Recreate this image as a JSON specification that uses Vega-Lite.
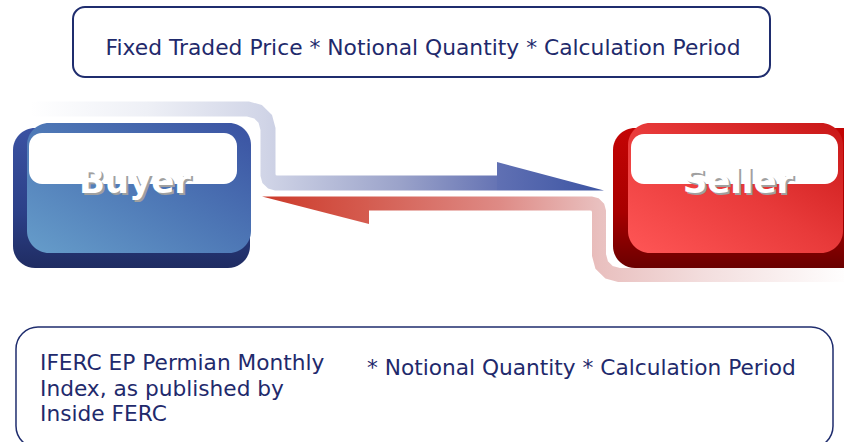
{
  "$schema": "https://vega.github.io/schema/vega-lite/v6.json",
  "width": 844,
  "height": 442,
  "autosize": {"type": "none"},
  "padding": 0,
  "background": "white",
  "config": {"view": {"stroke": null}},
  "datasets": {
    "blueBand": [
      {"i": 0, "x": 30, "y": 109}, {"i": 1, "x": 248, "y": 109}, {"i": 2, "x": 258, "y": 111.7},
      {"i": 3, "x": 265.3, "y": 119}, {"i": 4, "x": 268, "y": 129}, {"i": 5, "x": 268, "y": 175},
      {"i": 6, "x": 269.1, "y": 179}, {"i": 7, "x": 272, "y": 181.9}, {"i": 8, "x": 276, "y": 183},
      {"i": 9, "x": 497, "y": 183}
    ],
    "blueHead": [{"x": 497, "y": 162, "y2": 190.5}, {"x": 604, "y": 190.5, "y2": 190.5}],
    "redBand": [
      {"i": 0, "x": 369, "y": 203.5}, {"i": 1, "x": 591, "y": 203.5}, {"i": 2, "x": 595, "y": 204.6},
      {"i": 3, "x": 597.9, "y": 207.5}, {"i": 4, "x": 599, "y": 211.5}, {"i": 5, "x": 599, "y": 255},
      {"i": 6, "x": 601.7, "y": 265}, {"i": 7, "x": 609, "y": 272.3}, {"i": 8, "x": 619, "y": 275},
      {"i": 9, "x": 850, "y": 275}
    ],
    "redHead": [{"x": 262, "y": 196.5, "y2": 196.5}, {"x": 369, "y": 196.5, "y2": 224}],
    "topBox": [{"x": 73, "x2": 770, "y": 7, "y2": 77}],
    "bottomBox": [{"x": 16, "x2": 833, "y": 327, "y2": 448}],
    "buyerBack": [{"x": 13, "x2": 250, "y": 128, "y2": 268}],
    "buyerFace": [{"x": 27, "x2": 251, "y": 123, "y2": 253}],
    "sellerBack": [{"x": 613, "x2": 870, "y": 128, "y2": 268}],
    "sellerFace": [{"x": 628, "x2": 843, "y": 123, "y2": 253}],
    "highlights": [
      {"x": 29, "x2": 237, "y": 133, "y2": 184},
      {"x": 631, "x2": 838, "y": 134, "y2": 184}
    ],
    "labels": [
      {"t": "Buyer", "x": 135, "y": 193},
      {"t": "Seller", "x": 738, "y": 193}
    ],
    "topText": [{"t": "Fixed Traded Price * Notional Quantity * Calculation Period", "x": 423, "y": 55}],
    "bottomText": [
      {"t": "IFERC EP Permian Monthly", "x": 40, "y": 370},
      {"t": "Index, as published by", "x": 40, "y": 396},
      {"t": "Inside FERC", "x": 40, "y": 421},
      {"t": "* Notional Quantity * Calculation Period", "x": 367, "y": 375}
    ]
  },
  "layer": [
    {
      "data": {"name": "topBox"},
      "mark": {"type": "rect", "fill": "white", "stroke": "#1f2d6e", "strokeWidth": 2, "cornerRadius": 12},
      "encoding": {
        "x": {"field": "x", "type": "quantitative", "scale": {"domain": [0, 844], "nice": false, "zero": false}, "axis": null},
        "x2": {"field": "x2"},
        "y": {"field": "y", "type": "quantitative", "scale": {"domain": [0, 442], "nice": false, "zero": false, "reverse": true}, "axis": null},
        "y2": {"field": "y2"}
      }
    },
    {
      "data": {"name": "bottomBox"},
      "mark": {"type": "rect", "fill": "white", "stroke": "#1f2d6e", "strokeWidth": 1.5, "cornerRadius": 22},
      "encoding": {
        "x": {"field": "x", "type": "quantitative", "axis": null},
        "x2": {"field": "x2"},
        "y": {"field": "y", "type": "quantitative", "axis": null},
        "y2": {"field": "y2"}
      }
    },
    {
      "data": {"name": "blueBand"},
      "mark": {
        "type": "line", "strokeWidth": 15, "strokeCap": "butt", "strokeJoin": "miter",
        "color": {"gradient": "linear", "x1": 0, "y1": 0, "x2": 1, "y2": 0,
          "stops": [
            {"offset": 0, "color": "#ffffff"},
            {"offset": 0.25, "color": "#eef0f6"},
            {"offset": 0.5, "color": "#d1d5e7"},
            {"offset": 0.79, "color": "#9ba3ca"},
            {"offset": 1, "color": "#6674b4"}
          ]}
      },
      "encoding": {
        "x": {"field": "x", "type": "quantitative", "axis": null},
        "y": {"field": "y", "type": "quantitative", "axis": null},
        "order": {"field": "i", "type": "quantitative"}
      }
    },
    {
      "data": {"name": "blueHead"},
      "mark": {
        "type": "area",
        "color": {"gradient": "linear", "x1": 0, "y1": 0, "x2": 1, "y2": 0,
          "stops": [{"offset": 0, "color": "#6070b3"}, {"offset": 1, "color": "#3c54a3"}]}
      },
      "encoding": {
        "x": {"field": "x", "type": "quantitative", "axis": null},
        "y": {"field": "y", "type": "quantitative", "axis": null},
        "y2": {"field": "y2"}
      }
    },
    {
      "data": {"name": "redBand"},
      "mark": {
        "type": "line", "strokeWidth": 14, "strokeCap": "butt", "strokeJoin": "miter",
        "color": {"gradient": "linear", "x1": 0, "y1": 0, "x2": 1, "y2": 0,
          "stops": [
            {"offset": 0, "color": "#d45d51"},
            {"offset": 0.27, "color": "#de8a85"},
            {"offset": 0.48, "color": "#e9c0bf"},
            {"offset": 0.7, "color": "#f3dede"},
            {"offset": 1, "color": "#ffffff"}
          ]}
      },
      "encoding": {
        "x": {"field": "x", "type": "quantitative", "axis": null},
        "y": {"field": "y", "type": "quantitative", "axis": null},
        "order": {"field": "i", "type": "quantitative"}
      }
    },
    {
      "data": {"name": "redHead"},
      "mark": {
        "type": "area",
        "color": {"gradient": "linear", "x1": 0, "y1": 0, "x2": 1, "y2": 0,
          "stops": [{"offset": 0, "color": "#cc3a2a"}, {"offset": 1, "color": "#d55c50"}]}
      },
      "encoding": {
        "x": {"field": "x", "type": "quantitative", "axis": null},
        "y": {"field": "y", "type": "quantitative", "axis": null},
        "y2": {"field": "y2"}
      }
    },
    {
      "data": {"name": "buyerBack"},
      "mark": {
        "type": "rect", "cornerRadius": 22,
        "color": {"gradient": "linear", "x1": 0, "y1": 0, "x2": 0, "y2": 1,
          "stops": [{"offset": 0, "color": "#3a52a2"}, {"offset": 0.6, "color": "#2c4088"}, {"offset": 1, "color": "#1f2c62"}]}
      },
      "encoding": {
        "x": {"field": "x", "type": "quantitative", "axis": null},
        "x2": {"field": "x2"},
        "y": {"field": "y", "type": "quantitative", "axis": null},
        "y2": {"field": "y2"}
      }
    },
    {
      "data": {"name": "buyerFace"},
      "mark": {
        "type": "rect", "cornerRadius": 22,
        "color": {"gradient": "linear", "x1": 0, "y1": 1, "x2": 1, "y2": 0,
          "stops": [{"offset": 0, "color": "#669dca"}, {"offset": 0.5, "color": "#4e78b6"}, {"offset": 1, "color": "#3a52a2"}]}
      },
      "encoding": {
        "x": {"field": "x", "type": "quantitative", "axis": null},
        "x2": {"field": "x2"},
        "y": {"field": "y", "type": "quantitative", "axis": null},
        "y2": {"field": "y2"}
      }
    },
    {
      "data": {"name": "sellerBack"},
      "mark": {
        "type": "rect", "cornerRadius": 22,
        "color": {"gradient": "linear", "x1": 0, "y1": 0, "x2": 0, "y2": 1,
          "stops": [{"offset": 0, "color": "#c40404"}, {"offset": 0.6, "color": "#a80000"}, {"offset": 1, "color": "#6a0000"}]}
      },
      "encoding": {
        "x": {"field": "x", "type": "quantitative", "axis": null},
        "x2": {"field": "x2"},
        "y": {"field": "y", "type": "quantitative", "axis": null},
        "y2": {"field": "y2"}
      }
    },
    {
      "data": {"name": "sellerFace"},
      "mark": {
        "type": "rect", "cornerRadius": 22,
        "color": {"gradient": "linear", "x1": 0, "y1": 1, "x2": 1, "y2": 0,
          "stops": [{"offset": 0, "color": "#ff5656"}, {"offset": 0.5, "color": "#e83a3a"}, {"offset": 1, "color": "#c81616"}]}
      },
      "encoding": {
        "x": {"field": "x", "type": "quantitative", "axis": null},
        "x2": {"field": "x2"},
        "y": {"field": "y", "type": "quantitative", "axis": null},
        "y2": {"field": "y2"}
      }
    },
    {
      "data": {"name": "highlights"},
      "mark": {"type": "rect", "cornerRadius": 13, "color": "#ffffff", "opacity": 1},
      "encoding": {
        "x": {"field": "x", "type": "quantitative", "axis": null},
        "x2": {"field": "x2"},
        "y": {"field": "y", "type": "quantitative", "axis": null},
        "y2": {"field": "y2"}
      }
    },
    {
      "data": {"name": "labels"},
      "mark": {"type": "text", "font": "DejaVu Sans", "fontWeight": "bold", "fontSize": 34, "align": "center", "baseline": "alphabetic", "color": "#a0a0a0", "dx": 2, "dy": 2},
      "encoding": {
        "x": {"field": "x", "type": "quantitative", "axis": null},
        "y": {"field": "y", "type": "quantitative", "axis": null},
        "text": {"field": "t"}
      }
    },
    {
      "data": {"name": "labels"},
      "mark": {"type": "text", "font": "DejaVu Sans", "fontWeight": "bold", "fontSize": 34, "align": "center", "baseline": "alphabetic", "color": "#ffffff"},
      "encoding": {
        "x": {"field": "x", "type": "quantitative", "axis": null},
        "y": {"field": "y", "type": "quantitative", "axis": null},
        "text": {"field": "t"}
      }
    },
    {
      "data": {"name": "topText"},
      "mark": {"type": "text", "font": "DejaVu Sans", "fontSize": 21.8, "align": "center", "baseline": "alphabetic", "color": "#1f2a6c"},
      "encoding": {
        "x": {"field": "x", "type": "quantitative", "axis": null},
        "y": {"field": "y", "type": "quantitative", "axis": null},
        "text": {"field": "t"}
      }
    },
    {
      "data": {"name": "bottomText"},
      "mark": {"type": "text", "font": "DejaVu Sans", "fontSize": 21.7, "align": "left", "baseline": "alphabetic", "color": "#1f2a6c"},
      "encoding": {
        "x": {"field": "x", "type": "quantitative", "axis": null},
        "y": {"field": "y", "type": "quantitative", "axis": null},
        "text": {"field": "t"}
      }
    }
  ]
}
